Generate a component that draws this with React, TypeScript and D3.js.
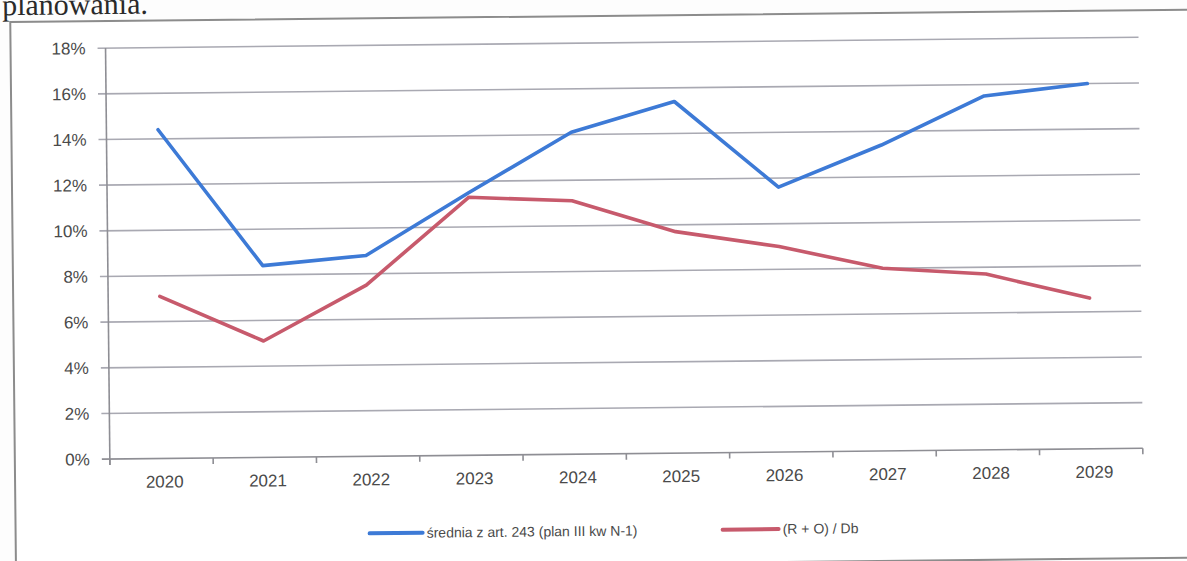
import React from "react";
import * as d3 from "d3";

const years = ["2020", "2021", "2022", "2023", "2024", "2025", "2026", "2027", "2028", "2029"];
const sredniaValues = [14.4, 8.4, 8.8, 11.5, 14.1, 15.4, 11.6, 13.4, 15.5, 16.0];
const roDbValues = [7.1, 5.1, 7.5, 11.3, 11.1, 9.7, 9.0, 8.0, 7.7, 6.6];
const yTicks = [0, 2, 4, 6, 8, 10, 12, 14, 16, 18];
const seriesNames = ["średnia z art. 243 (plan III kw N-1)", "(R + O) / Db"];
const seriesColors = ["#3d7ad6", "#c75a6c"];

const W = 1187;
const H = 561;
const left = 108;
const right = 1141;
const top = 43;
const bottom = 454;

export default function App() {
  const x = d3.scaleBand<string>().domain(years).range([left, right]).paddingInner(0).paddingOuter(0);
  const y = d3.scaleLinear().domain([0, 18]).range([bottom, top]);
  const line = d3
    .line<number>()
    .x((_, i) => (x(years[i]) as number) + x.bandwidth() / 2)
    .y((d) => y(d));

  const series = [sredniaValues, roDbValues];
  const boundaries = d3.range(years.length + 1).map((i) => left + i * x.bandwidth());
  const font = "'Liberation Sans', Arial, sans-serif";
  const textColor = "#4a4a4a";

  const legendItems = [
    { x0: 367, x1: 420, tx: 424 },
    { x0: 720, x1: 776, tx: 780 },
  ];

  return (
    <svg
      width={W}
      height={H}
      style={{ position: "absolute", left: 0, top: 0, background: "#fdfdfd" }}
    >
      <g transform={`rotate(-0.6 ${W / 2} ${H / 2})`}>
        <text x={5} y={9} fontFamily="'Liberation Serif', 'Times New Roman', serif" fontSize={30} fill="#2a2a2a">
          planowania.
        </text>
        <rect x={13} y={16} width={1200} height={548} fill="#ffffff" stroke="#8c8c8c" strokeWidth={2} />

        {yTicks.map((t) => (
          <g key={t}>
            <line x1={left - 8} x2={right} y1={y(t)} y2={y(t)} stroke={t === 0 ? "#8e8e94" : "#a9a9b2"} strokeWidth={1.6} />
            <text
              x={88}
              y={y(t)}
              dy="0.35em"
              textAnchor="end"
              fontFamily={font}
              fontSize={17}
              fill={textColor}
            >
              {t}%
            </text>
          </g>
        ))}
        <line x1={left} x2={left} y1={top} y2={bottom + 6} stroke="#8e8e94" strokeWidth={1.6} />
        {boundaries.map((bx, i) => (
          <line key={i} x1={bx} x2={bx} y1={bottom} y2={bottom + 6} stroke="#8e8e94" strokeWidth={1.6} />
        ))}
        {years.map((yr) => (
          <text
            key={yr}
            x={(x(yr) as number) + x.bandwidth() / 2 + 3}
            y={bottom + 29}
            textAnchor="middle"
            fontFamily={font}
            fontSize={17}
            fill={textColor}
          >
            {yr}
          </text>
        ))}

        {series.map((vals, i) => (
          <path
            key={i}
            d={line(vals) as string}
            fill="none"
            stroke={seriesColors[i]}
            strokeWidth={3.6}
            strokeLinejoin="round"
            strokeLinecap="round"
          />
        ))}

        {legendItems.map((it, i) => (
          <g key={i}>
            <line x1={it.x0} x2={it.x1} y1={531} y2={531} stroke={seriesColors[i]} strokeWidth={4} strokeLinecap="round" />
            <text x={it.tx} y={531} dy="0.35em" fontFamily={font} fontSize={14} fill={textColor}>
              {seriesNames[i]}
            </text>
          </g>
        ))}
      </g>
    </svg>
  );
}
